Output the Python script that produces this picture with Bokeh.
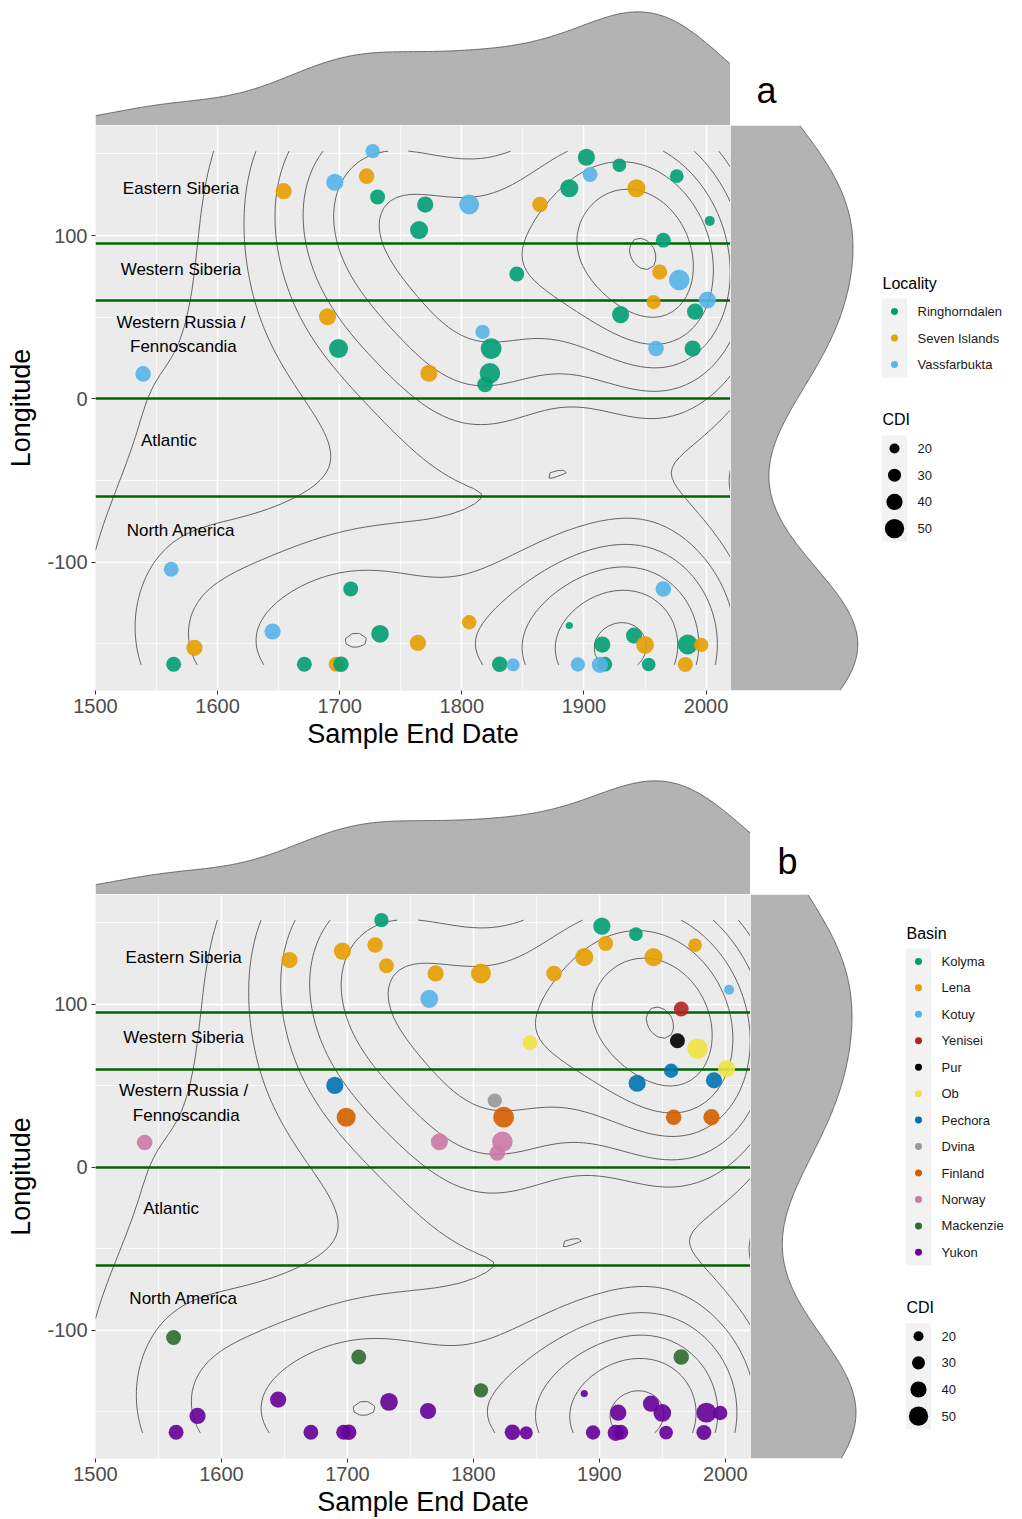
import numpy as np
from bokeh.plotting import figure
from bokeh.layouts import column, row
from bokeh.models import Range1d, Label, SingleIntervalTicker, ColumnDataSource, PrintfTickFormatter
from bokeh.core.properties import value
from bokeh.embed import file_html
from bokeh.resources import INLINE

FONT = "Liberation Sans"

# ---------------- data ----------------
end_date = [1727, 1654, 1696, 1722, 1731, 1690, 1699, 1539, 1902, 1905,
            1929, 1976, 1943, 1888, 1864, 1770, 1806, 1765, 2003, 1965,
            1845, 1962, 1978, 1957, 2001, 1930, 1991, 1817, 1824, 1959,
            1989, 1773, 1823, 1819, 1562, 1709, 1645, 1733, 1581, 1564,
            1671, 1697, 1701, 1764, 1806, 1888, 1965, 1831, 1842, 1895,
            1915, 1917, 1913, 1941, 1950, 1953, 1985, 1996, 1983]
longitude = [151.7, 127.2, 132.7, 136.4, 123.7, 50.3, 30.8, 15.3, 148.0, 137.4,
             143.1, 136.4, 129.0, 129.0, 119.0, 119.0, 119.0, 103.4, 109.0, 97.2,
             76.5, 77.7, 72.8, 59.3, 60.6, 51.6, 53.4, 41.0, 30.8, 30.8,
             30.8, 15.7, 15.7, 8.8, -104.4, -116.4, -142.5, -143.9, -152.5, -162.5,
             -162.5, -162.5, -162.5, -149.5, -136.8, -138.8, -116.4, -162.5, -162.9, -162.7,
             -150.5, -162.5, -162.9, -145.0, -150.7, -162.7, -150.5, -150.7, -162.7]
cdi = [34, 40, 43, 38, 36, 43, 49, 38, 43, 36,
       32, 32, 46, 46, 38, 40, 52, 46, 20, 36,
       36, 36, 54, 34, 43, 43, 40, 34, 55, 38,
       40, 43, 54, 38, 36, 36, 40, 45, 40, 36,
       36, 36, 38, 40, 34, 11, 38, 38, 30, 34,
       40, 36, 40, 40, 45, 32, 52, 34, 36]
locality = ["Vassfarbukta", "Seven Islands", "Vassfarbukta", "Seven Islands", "Ringhorndalen",
            "Seven Islands", "Ringhorndalen", "Vassfarbukta", "Ringhorndalen", "Vassfarbukta",
            "Ringhorndalen", "Ringhorndalen", "Seven Islands", "Ringhorndalen", "Seven Islands",
            "Ringhorndalen", "Vassfarbukta", "Ringhorndalen", "Ringhorndalen", "Ringhorndalen",
            "Ringhorndalen", "Seven Islands", "Vassfarbukta", "Seven Islands", "Vassfarbukta",
            "Ringhorndalen", "Ringhorndalen", "Vassfarbukta", "Ringhorndalen", "Vassfarbukta",
            "Ringhorndalen", "Seven Islands", "Ringhorndalen", "Ringhorndalen", "Vassfarbukta",
            "Ringhorndalen", "Vassfarbukta", "Ringhorndalen", "Seven Islands", "Ringhorndalen",
            "Ringhorndalen", "Seven Islands", "Ringhorndalen", "Seven Islands", "Seven Islands",
            "Ringhorndalen", "Vassfarbukta", "Ringhorndalen", "Vassfarbukta", "Vassfarbukta",
            "Ringhorndalen", "Ringhorndalen", "Vassfarbukta", "Ringhorndalen", "Seven Islands",
            "Ringhorndalen", "Ringhorndalen", "Seven Islands", "Seven Islands"]
basin = ["Kolyma", "Lena", "Lena", "Lena", "Lena",
         "Pechora", "Finland", "Norway", "Kolyma", "Lena",
         "Kolyma", "Lena", "Lena", "Lena", "Lena",
         "Lena", "Lena", "Kotuy", "Kotuy", "Yenisei",
         "Ob", "Pur", "Ob", "Pechora", "Ob",
         "Pechora", "Pechora", "Dvina", "Finland", "Finland",
         "Finland", "Norway", "Norway", "Norway", "Mackenzie",
         "Mackenzie", "Yukon", "Yukon", "Yukon", "Yukon",
         "Yukon", "Yukon", "Yukon", "Yukon", "Mackenzie",
         "Yukon", "Mackenzie", "Yukon", "Yukon", "Yukon",
         "Yukon", "Yukon", "Yukon", "Yukon", "Yukon",
         "Yukon", "Yukon", "Yukon", "Yukon"]

locality_levels = ["Ringhorndalen", "Seven Islands", "Vassfarbukta"]
locality_colors = ["#009E73", "#E69F00", "#56B4E9"]
basin_levels = ["Kolyma", "Lena", "Kotuy", "Yenisei", "Pur", "Ob", "Pechora",
                "Dvina", "Finland", "Norway", "Mackenzie", "Yukon"]
basin_colors = ["#009E73", "#E69F00", "#56B4E9", "#B22222", "#000000", "#F0E442",
                "#0072B2", "#999999", "#D55E00", "#CC79A7", "#2E6B2E", "#66009A"]
cdi_breaks = [20, 30, 40, 50]

region_bounds = [95, 60, 0, -60]
region_names = ["Eastern Siberia", "Western Siberia", "Western Russia /", "Fennoscandia",
                "Atlantic", "North America"]
region_x = [1570, 1570, 1570, 1572, 1560, 1570]
region_y = [129, 79.5, 47, 31.8, -25.5, -80.5]

x_limits = (1500, 2020)

# ---------------- helpers ----------------
yr = np.array(end_date, float)
lon = np.array(longitude, float)


def cdi_px(v):
    return 3.8 + 0.31 * np.asarray(v, float)


def spread(v):
    sd = np.std(v, ddof=1)
    q75, q25 = np.percentile(v, [75, 25])
    return min(sd, (q75 - q25) / 1.34)


def bw_nrd0(v):
    return 0.9 * spread(v) * len(v) ** -0.2


def bw_nrd(v):
    return 4 * 1.06 * spread(v) * len(v) ** -0.2


def gauss(u):
    return np.exp(-0.5 * u ** 2) / np.sqrt(2 * np.pi)


def kde1d(v, grid):
    bw = bw_nrd0(v)
    return gauss((grid[:, None] - v[None, :]) / bw).sum(1) / (len(v) * bw)


def kde2d(x, y, gx, gy):
    hx = bw_nrd(x) / 4
    hy = bw_nrd(y) / 4
    ax = gauss((gx[:, None] - x[None, :]) / hx)
    ay = gauss((gy[:, None] - y[None, :]) / hy)
    return (ay @ ax.T) / (len(x) * hx * hy)


def pretty(lo, hi, n=10):
    cell = (hi - lo) / n
    U = 10 ** np.floor(np.log10(cell))
    unit = U
    h = 1.5
    h5 = 0.5 + 1.5 * h
    if 2 * U - cell < h * (cell - unit):
        unit = 2 * U
        if 5 * U - cell < h5 * (cell - unit):
            unit = 5 * U
            if 10 * U - cell < h * (cell - unit):
                unit = 10 * U
    start = np.floor(lo / unit + 1e-7) * unit
    end = np.ceil(hi / unit - 1e-7) * unit
    return np.arange(start, end + unit / 2, unit)


y_pad = 0.05 * (lon.max() - lon.min())
y_lo, y_hi = lon.min() - y_pad, lon.max() + y_pad

gx = np.linspace(x_limits[0], x_limits[1], 100)
gy = np.linspace(lon.min(), lon.max(), 100)
z = kde2d(yr, lon, gx, gy)
levels = [l for l in pretty(z.min(), z.max(), 10) if z.min() < l < z.max()]

mx = np.linspace(x_limits[0], x_limits[1], 512)
dx = kde1d(yr, mx)
my = np.linspace(y_lo, y_hi, 512)
dy = kde1d(lon, my)

GRID_BG = "#EBEBEB"
FRAME_H = 565


def main_fig(colors, frame_w, border_bottom):
    p = figure(width=95 + frame_w, height=FRAME_H + border_bottom,
               x_range=Range1d(*x_limits), y_range=Range1d(y_lo, y_hi),
               output_backend="svg", toolbar_location=None,
               min_border_left=95, min_border_right=0, min_border_top=0,
               min_border_bottom=border_bottom)
    p.background_fill_color = GRID_BG
    p.border_fill_color = "white"
    p.outline_line_color = None
    xt = SingleIntervalTicker(interval=100, num_minor_ticks=2)
    yt = SingleIntervalTicker(interval=100, num_minor_ticks=2)
    p.xaxis.ticker = xt
    p.xgrid.ticker = xt
    p.yaxis.ticker = yt
    p.ygrid.ticker = yt
    p.grid.grid_line_color = "white"
    p.grid.grid_line_width = 1.5
    p.grid.minor_grid_line_color = "white"
    p.grid.minor_grid_line_width = 0.7
    for ax in (p.xaxis, p.yaxis):
        ax.formatter = PrintfTickFormatter(format="%d")
        ax.axis_line_color = None
        ax.major_tick_line_color = "#333333"
        ax.major_tick_in = 0
        ax.major_tick_out = 4
        ax.minor_tick_line_color = None
        ax.major_label_text_font = FONT
        ax.major_label_text_font_size = "20px"
        ax.major_label_text_color = "#4D4D4D"
        ax.axis_label_text_font = FONT
        ax.axis_label_text_font_size = "27px"
        ax.axis_label_text_font_style = "normal"
        ax.axis_label_text_color = "black"
    p.xaxis.major_label_standoff = 4
    p.yaxis.major_label_standoff = 4
    p.xaxis.axis_label = "Sample End Date"
    p.yaxis.axis_label = "Longitude"
    p.xaxis.axis_label_standoff = 3
    p.yaxis.axis_label_standoff = 8

    p.contour(gx, gy, z, levels=levels, line_color="#555555", line_width=0.9)
    p.hspan(y=region_bounds, line_color="#006400", line_width=2.6)
    p.text(x=region_x, y=region_y, text=region_names, text_font=value(FONT),
           text_font_size="17px", text_align="center", text_baseline="middle",
           text_color="black")
    src = ColumnDataSource(dict(x=end_date, y=longitude, s=cdi_px(cdi), c=colors))
    p.scatter("x", "y", size="s", fill_color="c", line_color=None, fill_alpha=0.9,
              source=src)
    return p


def blank(p):
    p.grid.visible = False
    p.outline_line_color = None
    p.background_fill_color = "white"
    p.border_fill_color = "white"


def top_fig(frame_w, x_range):
    p = figure(width=95 + frame_w, height=125, x_range=x_range,
               y_range=Range1d(0, dx.max() * 1.1), output_backend="svg",
               toolbar_location=None, x_axis_location=None, y_axis_location=None,
               min_border_left=95, min_border_right=0, min_border_top=0,
               min_border_bottom=0)
    blank(p)
    p.varea(x=mx, y1=0, y2=dx, fill_color="#B3B3B3")
    p.line(mx, dx, line_color="#4D4D4D", line_width=0.8)
    return p


def right_fig(width, border_bottom, y_range):
    p = figure(width=width, height=FRAME_H + border_bottom, x_range=Range1d(0, dy.max() * 1.1),
               y_range=y_range, output_backend="svg", toolbar_location=None,
               x_axis_location=None, y_axis_location=None,
               min_border_left=0, min_border_right=0, min_border_top=0,
               min_border_bottom=border_bottom)
    blank(p)
    p.harea(y=my, x1=0, x2=dy, fill_color="#B3B3B3")
    p.line(dy, my, line_color="#4D4D4D", line_width=0.8)
    return p


def label_fig(width, letter, lx, ly):
    p = figure(width=width, height=125, x_range=Range1d(0, width), y_range=Range1d(0, 125),
               output_backend="svg", toolbar_location=None,
               x_axis_location=None, y_axis_location=None,
               min_border_left=0, min_border_right=0, min_border_top=0, min_border_bottom=0)
    blank(p)
    p.add_layout(Label(x=lx, y=ly, text=letter, text_font=FONT, text_font_size="36px",
                       text_align="center", text_baseline="middle", text_color="black"))
    return p


def legend_fig(width, border_bottom, title, levs, cols, tx, dot_x, lab_x, title_y):
    # frame uses a pixel-like coordinate system (y measured downward from frame top)
    p = figure(width=width, height=FRAME_H + border_bottom, x_range=Range1d(0, width),
               y_range=Range1d(FRAME_H, 0), output_backend="svg", toolbar_location=None,
               x_axis_location=None, y_axis_location=None,
               min_border_left=0, min_border_right=0, min_border_top=0,
               min_border_bottom=border_bottom)
    blank(p)
    n = len(levs)
    item_y = [title_y + 28 + 26.5 * i for i in range(n)]
    cdi_title_y = item_y[-1] + 55
    cdi_y = [cdi_title_y + 29 + 26.7 * i for i in range(len(cdi_breaks))]
    p.quad(left=[dot_x - 12.5] * 2, right=[dot_x + 12.5] * 2,
           top=[item_y[0] - 13, cdi_y[0] - 13], bottom=[item_y[-1] + 13, cdi_y[-1] + 13],
           fill_color="#F2F2F2", line_color=None)
    p.text(x=[tx, tx], y=[title_y, cdi_title_y], text=[title, "CDI"], text_font=value(FONT),
           text_font_size="16px", text_align="left", text_baseline="middle",
           text_color="black")
    p.scatter(x=[dot_x] * n, y=item_y, size=7, fill_color=cols, line_color=None)
    p.text(x=[lab_x] * n, y=item_y, text=levs, text_font=value(FONT),
           text_font_size="13px", text_align="left", text_baseline="middle",
           text_color="#1A1A1A")
    p.scatter(x=[dot_x] * len(cdi_breaks), y=cdi_y, size=cdi_px(cdi_breaks),
              fill_color="black", line_color=None)
    p.text(x=[lab_x] * len(cdi_breaks), y=cdi_y, text=[str(b) for b in cdi_breaks],
           text_font=value(FONT), text_font_size="13px", text_align="left",
           text_baseline="middle", text_color="#1A1A1A")
    return p


loc_map = dict(zip(locality_levels, locality_colors))
bas_map = dict(zip(basin_levels, basin_colors))

# ----- panel a -----
BA = 79
main_a = main_fig([loc_map[v] for v in locality], 635, BA)
top_a = top_fig(635, main_a.x_range)
lab_a = label_fig(1022 - 730, "a", 36, 35)
right_a = right_fig(140, BA, main_a.y_range)
leg_a = legend_fig(152, BA, "Locality", locality_levels, locality_colors,
                   12, 24, 47, 158)

# ----- panel b -----
BB = 60
main_b = main_fig([bas_map[v] for v in basin], 655, BB)
top_b = top_fig(655, main_b.x_range)
lab_b = label_fig(1022 - 750, "b", 37, 33)
right_b = right_fig(116, BB, main_b.y_range)
leg_b = legend_fig(156, BB, "Basin", basin_levels, basin_colors,
                   40, 52, 75, 39)

layout = column(row(top_a, lab_a), row(main_a, right_a, leg_a),
                row(top_b, lab_b), row(main_b, right_b, leg_b))

open("out.html", "w").write(file_html(layout, INLINE))
